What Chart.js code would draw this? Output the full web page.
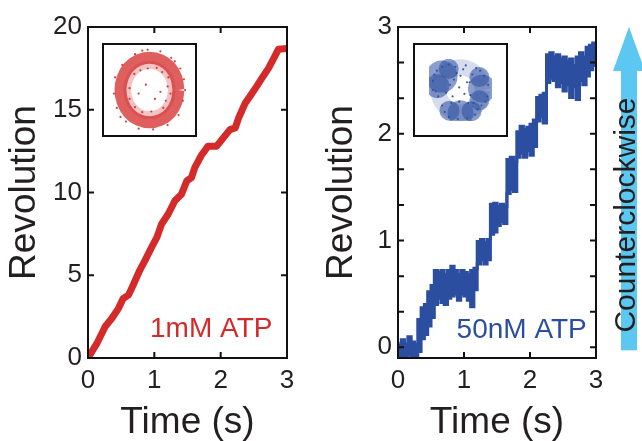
<!DOCTYPE html>
<html>
<head>
<meta charset="utf-8">
<script src="https://cdn.jsdelivr.net/npm/chart.js@4.4.1/dist/chart.umd.min.js"></script>
<style>
  html, body { margin: 0; padding: 0; background: #fff; }
  #wrap { position: relative; width: 642px; height: 441px; overflow: hidden; }
  canvas { position: absolute; }
</style>
</head>
<body>
<div id="wrap">
  <canvas id="fast" width="320" height="441" style="left:0;top:0;width:320px;height:441px"></canvas>
  <canvas id="slow" width="322" height="441" style="left:320px;top:0;width:322px;height:441px"></canvas>
  <canvas id="fastInset" width="95" height="94" style="left:102px;top:43px;width:95px;height:94px"></canvas>
  <canvas id="slowInset" width="95" height="94" style="left:413px;top:43px;width:95px;height:94px"></canvas>
</div>
<script>
// 1mM ATP trace (time in s, revolutions)
const fastTime = [0, 0.03, 0.13, 0.26, 0.36, 0.46, 0.53, 0.61, 0.68, 0.78, 0.86, 0.96, 1.04, 1.11, 1.21, 1.31, 1.41, 1.49, 1.56, 1.61, 1.71, 1.81, 1.94, 2.04, 2.14, 2.22, 2.27, 2.37, 2.44, 2.54, 2.62, 2.72, 2.80, 2.87, 3.0];
const fastRev = [0, 0.2, 0.85, 1.9, 2.4, 3.0, 3.6, 3.8, 4.4, 5.3, 5.9, 6.7, 7.3, 8.1, 8.7, 9.5, 9.9, 10.7, 10.9, 11.5, 12.25, 12.8, 12.8, 13.3, 13.8, 13.9, 14.5, 15.4, 15.8, 16.4, 16.9, 17.5, 18.1, 18.65, 18.7];

// 50nM ATP trace: noisy band given as upper / lower envelope
const slowTime = [0.00, 0.05, 0.10, 0.15, 0.20, 0.25, 0.30, 0.35, 0.40, 0.45, 0.50, 0.55, 0.60, 0.65, 0.70, 0.75, 0.80, 0.85, 0.90, 0.95,
                  1.00, 1.05, 1.10, 1.15, 1.20, 1.25, 1.30, 1.35, 1.40, 1.45, 1.50, 1.55, 1.60, 1.65, 1.70, 1.75, 1.80, 1.85, 1.90, 1.95,
                  2.00, 2.05, 2.10, 2.15, 2.20, 2.25, 2.30, 2.35, 2.40, 2.45, 2.50, 2.55, 2.60, 2.65, 2.70, 2.75, 2.80, 2.85, 2.90, 2.95, 3.00];
const slowHigh = [0.05, 0.02, 0.07, 0.03, 0.10, 0.05, 0.03, 0.26, 0.37, 0.40, 0.52, 0.58, 0.72, 0.70, 0.72, 0.68, 0.72, 0.76, 0.72, 0.68,
                  0.72, 0.70, 0.68, 0.72, 0.74, 0.99, 1.01, 0.98, 1.01, 1.34, 1.35, 1.32, 1.34, 1.32, 1.76, 1.78, 1.74, 2.02, 2.07, 2.04,
                  2.06, 2.09, 2.13, 2.34, 2.36, 2.38, 2.74, 2.76, 2.72, 2.74, 2.70, 2.72, 2.68, 2.70, 2.64, 2.72, 2.76, 2.72, 2.81, 2.83, 2.85];
const slowLow = [-0.10, -0.10, -0.08, -0.10, -0.07, -0.10, -0.10, -0.04, 0.08, 0.12, 0.20, 0.28, 0.40, 0.46, 0.42, 0.40, 0.46, 0.48, 0.50, 0.44,
                 0.50, 0.48, 0.44, 0.38, 0.54, 0.78, 0.82, 0.78, 0.82, 1.06, 1.08, 1.14, 1.18, 1.16, 1.44, 1.48, 1.46, 1.78, 1.82, 1.78,
                 1.84, 1.80, 1.88, 2.12, 2.16, 2.10, 2.48, 2.52, 2.50, 2.44, 2.48, 2.40, 2.46, 2.34, 2.44, 2.32, 2.50, 2.46, 2.54, 2.60, 2.64];

// tick values
const timeTicks = [0, 1, 2, 3];
const fastRevTicks = [0, 5, 10, 15, 20];
const slowRevTicks = [0, 1/3, 2/3, 1, 4/3, 5/3, 2, 7/3, 8/3, 3];

// insets: x-y position of the bead (arbitrary units)
const fastRingX = [0.80, 0.74, 0.57, 0.31, 0, -0.31, -0.57, -0.74, -0.80, -0.74, -0.57, -0.31, 0, 0.31, 0.57, 0.74, 0.80];
const fastRingY = [0, 0.34, 0.64, 0.83, 0.90, 0.83, 0.64, 0.34, 0, -0.34, -0.64, -0.83, -0.90, -0.83, -0.64, -0.34, 0];
const fastInnerX = [0.62, 0.57, 0.44, 0.24, 0, -0.24, -0.44, -0.57, -0.62, -0.57, -0.44, -0.24, 0, 0.24, 0.44, 0.57, 0.62];
const fastInnerY = [0, 0.27, 0.49, 0.65, 0.70, 0.65, 0.49, 0.27, 0, -0.27, -0.49, -0.65, -0.70, -0.65, -0.49, -0.27, 0];
const fastDotsX = [0.95, 0.92, 0.85, 0.6, 0.3, -0.05, -0.4, -0.75, -0.95, -0.98, -0.9, -0.65, -0.3, 0.1, 0.5, 0.8, 0.98, -0.2, 0.7, -0.8,
                   0.5, 0.45, 0.35, -0.05, -0.42, -0.55, -0.4, 0.05, 0.38, 0.52, -0.55, 0.2, -0.2, 0.58, -0.1, 0.15, -0.25, 0.3, -0.3];
const fastDotsY = [0.3, -0.3, 0.6, 0.9, 1.08, 1.12, 1.0, 0.7, 0.35, -0.1, -0.5, -0.88, -1.08, -1.1, -0.98, -0.7, 0.0, 1.1, 0.8, -0.75,
                   0.1, -0.3, 0.5, 0.6, 0.45, 0.05, -0.48, -0.6, -0.5, 0.35, -0.25, 0.62, -0.62, -0.1, 0.15, -0.25, 0.55, -0.05, -0.1];

const slowRingX = [0.84, 0.78, 0.59, 0.32, 0, -0.32, -0.59, -0.78, -0.84, -0.78, -0.59, -0.32, 0, 0.32, 0.59, 0.78, 0.84];
const slowRingY = [0, 0.34, 0.62, 0.81, 0.88, 0.81, 0.62, 0.34, 0, -0.34, -0.62, -0.81, -0.88, -0.81, -0.62, -0.34, 0];
const slowBlobX = [-0.72, -0.88, -0.45, 0.82, 0.72, 0.72, 0.0, -0.42, 0.42];
const slowBlobY = [0.52, 0.15, 0.82, 0.05, 0.50, -0.40, -0.90, -0.80, -0.82];
const slowBlobR = [16, 12, 10, 14, 10, 10, 13, 10, 10];
const slowDotsX = [-1.05, -1.0, -0.9, -0.7, -0.45, -0.2, -0.15, -0.25, -0.4, -0.55, -0.85, -1.05, -0.95,
                   1.05, 1.02, 0.9, 0.75, 0.45, 0.35, 0.38, 0.5, 0.8, 0.95, 0.6,
                   -0.6, -0.45, -0.1, 0.25, 0.55, 0.65, 0.3, -0.05, -0.35, -0.7,
                   0.1, 0.2, 0.0, -0.05, 0.15, 0.25, -0.3];
const slowDotsY = [0.35, 0.6, 0.75, 0.9, 0.98, 0.9, 0.65, 0.4, 0.2, -0.1, -0.25, 0.0, -0.05,
                   0.2, -0.25, 0.55, 0.75, 0.6, 0.3, -0.2, -0.5, -0.6, -0.45, 0.85,
                   -0.85, -1.05, -1.12, -1.1, -0.95, -0.75, -0.5, -0.45, -0.5, -0.6,
                   0.8, 0.95, 0.55, 0.1, -0.15, 0.3, -0.25];

const RED = '#d42a2a';
const BLUE = '#2b4ea1';
const INK = '#231f20';

Chart.defaults.font.family = "'Liberation Sans', Arial, sans-serif";
Chart.defaults.color = INK;
Chart.defaults.animation = false;

const zip = (xs, ys) => xs.map((x, i) => ({ x: x, y: ys[i] }));

// box around plot area + inward ticks on all four sides
const frameTicks = {
    id: 'frameTicks',
    afterDatasetsDraw(chart) {
        const { ctx, chartArea: a } = chart;
        const { x, y } = chart.scales;
        const len = 6;
        ctx.save();
        ctx.strokeStyle = '#111';
        ctx.lineWidth = 2;
        ctx.beginPath();
        x.ticks.forEach(t => {
            const px = x.getPixelForValue(t.value);
            ctx.moveTo(px, a.bottom); ctx.lineTo(px, a.bottom - len);
            ctx.moveTo(px, a.top); ctx.lineTo(px, a.top + len);
        });
        y.ticks.forEach(t => {
            const py = y.getPixelForValue(t.value);
            ctx.moveTo(a.left, py); ctx.lineTo(a.left + len, py);
            ctx.moveTo(a.right, py); ctx.lineTo(a.right - len, py);
        });
        ctx.stroke();
        ctx.strokeRect(a.left, a.top, a.width, a.height);
        ctx.restore();
    }
};

// concentration label inside plot
const cornerLabel = {
    id: 'cornerLabel',
    afterDraw(chart, args, opts) {
        const { ctx } = chart;
        const px = chart.scales.x.getPixelForValue(opts.x);
        const py = chart.scales.y.getPixelForValue(opts.y);
        ctx.save();
        ctx.font = "28px 'Liberation Sans', Arial, sans-serif";
        ctx.fillStyle = opts.color;
        ctx.textAlign = 'right';
        ctx.textBaseline = 'alphabetic';
        ctx.fillText(opts.text, px, py);
        ctx.restore();
    }
};

// direction arrow at the right edge of the slow panel
const dirArrow = {
    id: 'dirArrow',
    afterDraw(chart, args, opts) {
        if (!opts.text) return;
        const { ctx } = chart;
        const y = chart.scales.y;
        const cx = opts.cx;
        const top = y.getPixelForValue(3);
        const bottom = y.getPixelForValue(0) + 3;
        ctx.save();
        ctx.fillStyle = '#5cc7f0';
        ctx.fillRect(cx - 8, top + 40, 16, bottom - top - 40);
        ctx.beginPath();
        ctx.moveTo(cx, top);
        ctx.lineTo(cx + 16, top + 44);
        ctx.lineTo(cx - 16, top + 44);
        ctx.closePath();
        ctx.fill();
        ctx.translate(cx - 2, 215);
        ctx.rotate(-Math.PI / 2);
        ctx.font = "30px 'Liberation Sans', Arial, sans-serif";
        ctx.fillStyle = INK;
        ctx.textAlign = 'center';
        ctx.textBaseline = 'middle';
        ctx.fillText(opts.text, 0, 0);
        ctx.restore();
    }
};

function traceScales(yMin, yMax, yTicks, yAxisWidth, titlePad) {
    return {
        x: {
            type: 'linear', min: 0, max: 3,
            afterBuildTicks: s => { s.ticks = timeTicks.map(v => ({ value: v })); },
            afterFit: s => { s.height = 83; },
            grid: { display: false, drawTicks: false },
            border: { display: false },
            ticks: { font: { size: 26 }, padding: 7, color: INK, autoSkip: false, maxRotation: 0 },
            title: { display: true, text: 'Time (s)', font: { size: 37, lineHeight: 1 }, color: INK, padding: { top: 0, bottom: 0 } }
        },
        y: {
            type: 'linear', min: yMin, max: yMax,
            afterBuildTicks: s => { s.ticks = yTicks.map(v => ({ value: v })); },
            afterFit: s => { s.width = yAxisWidth; },
            grid: { display: false, drawTicks: false },
            border: { display: false },
            ticks: {
                font: { size: 26 }, padding: 6, color: INK, autoSkip: false,
                callback: v => Number.isInteger(v) ? String(v) : ''
            },
            title: { display: true, text: 'Revolution', font: { size: 37 }, color: INK, padding: { top: titlePad, bottom: 0 } }
        }
    };
}

new Chart(document.getElementById('fast'), {
    type: 'line',
    data: {
        datasets: [{
            data: zip(fastTime, fastRev),
            borderColor: RED,
            borderWidth: 7,
            pointRadius: 0,
            tension: 0,
            borderJoinStyle: 'round',
            borderCapStyle: 'round'
        }]
    },
    options: {
        responsive: false,
        parsing: false,
        layout: { padding: { left: 0, right: 33, top: 27, bottom: 0 } },
        scales: traceScales(0, 20, fastRevTicks, 88, 3),
        plugins: {
            legend: { display: false },
            tooltip: { enabled: false },
            cornerLabel: { text: '1mM ATP', color: RED, x: 2.78, y: 1.27 }
        }
    },
    plugins: [frameTicks, cornerLabel]
});

new Chart(document.getElementById('slow'), {
    type: 'line',
    data: {
        datasets: [
            {
                data: zip(slowTime, slowHigh),
                borderColor: BLUE,
                backgroundColor: BLUE,
                borderWidth: 3,
                pointRadius: 0,
                stepped: 'after',
                fill: false
            },
            {
                data: zip(slowTime, slowLow),
                borderColor: BLUE,
                backgroundColor: BLUE,
                borderWidth: 3,
                pointRadius: 0,
                stepped: 'after',
                fill: '-1'
            }
        ]
    },
    options: {
        responsive: false,
        parsing: false,
        layout: { padding: { left: 0, right: 46, top: 27, bottom: 0 } },
        scales: traceScales(-0.1, 3, slowRevTicks, 78, 0),
        plugins: {
            legend: { display: false },
            tooltip: { enabled: false },
            cornerLabel: { text: '50nM ATP', color: BLUE, x: 2.86, y: 0.09 },
            dirArrow: { text: 'Counterclockwise', cx: 309 }
        }
    },
    plugins: [frameTicks, cornerLabel, dirArrow]
});

// small xy-scatter insets
const insetBox = {
    id: 'insetBox',
    afterDraw(chart) {
        const { ctx, width, height } = chart;
        ctx.save();
        ctx.strokeStyle = '#111';
        ctx.lineWidth = 2;
        ctx.strokeRect(1, 1, width - 2, height - 2);
        ctx.restore();
    }
};

function insetOptions() {
    return {
        responsive: false,
        parsing: false,
        layout: { padding: 0 },
        scales: {
            x: { type: 'linear', min: -1.2, max: 1.2, display: false },
            y: { type: 'linear', min: -1.2, max: 1.2, display: false }
        },
        plugins: { legend: { display: false }, tooltip: { enabled: false } }
    };
}

new Chart(document.getElementById('fastInset'), {
    type: 'scatter',
    data: {
        datasets: [
            {
                data: zip(fastInnerX, fastInnerY),
                showLine: true,
                tension: 0.4,
                borderColor: 'rgba(212,42,42,0.28)',
                borderWidth: 8,
                pointRadius: 0
            },
            {
                data: zip(fastRingX, fastRingY),
                showLine: true,
                tension: 0.4,
                borderColor: 'rgba(212,42,42,0.75)',
                borderWidth: 12,
                pointRadius: 0
            },
            {
                data: zip(fastDotsX, fastDotsY),
                backgroundColor: 'rgba(212,42,42,0.9)',
                borderWidth: 0,
                pointRadius: 1.1
            }
        ]
    },
    options: insetOptions(),
    plugins: [insetBox]
});

new Chart(document.getElementById('slowInset'), {
    type: 'scatter',
    data: {
        datasets: [
            {
                data: zip(slowRingX, slowRingY),
                showLine: true,
                tension: 0.4,
                borderColor: 'rgba(43,78,161,0.2)',
                borderWidth: 16,
                pointRadius: 0
            },
            {
                data: zip(slowBlobX, slowBlobY),
                backgroundColor: 'rgba(43,78,161,0.55)',
                borderWidth: 0,
                pointRadius: slowBlobR
            },
            {
                data: zip(slowDotsX, slowDotsY),
                backgroundColor: 'rgba(43,78,161,0.9)',
                borderWidth: 0,
                pointRadius: 1.1
            }
        ]
    },
    options: insetOptions(),
    plugins: [insetBox]
});
</script>
</body>
</html>
